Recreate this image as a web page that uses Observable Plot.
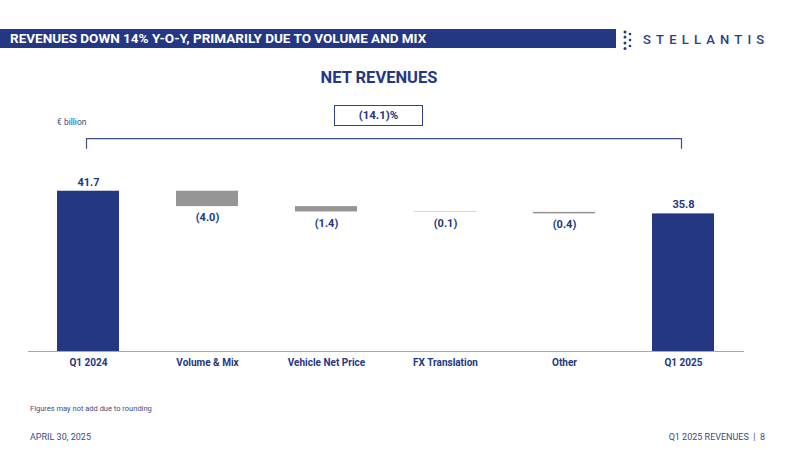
<!DOCTYPE html>
<html><head><meta charset="utf-8">
<script src="https://cdn.jsdelivr.net/npm/d3@7"></script>
<script src="https://cdn.jsdelivr.net/npm/@observablehq/plot@0.6"></script>
<style>
body{margin:0;background:#fff;font-family:Roboto,"Open Sans",sans-serif;}
#page{position:relative;width:800px;height:450px;overflow:hidden;background:#fff;}
.abs{position:absolute;white-space:nowrap;}
#hdr{left:0;top:29px;width:616px;height:19px;background:#233782;}
#hdrtxt{left:10px;top:29px;height:19px;line-height:19px;color:#fff;font-weight:700;font-size:13.5px;letter-spacing:0px;}
#logo{left:643px;top:32px;font-size:13px;letter-spacing:5.2px;color:#2c3e86;font-weight:500;}
#dots{left:621px;top:29px;}
#title{left:0;width:758px;top:68px;text-align:center;font-weight:700;font-size:16.5px;color:#233782;}
#unit{left:57px;top:117px;font-size:8.5px;color:#3d4a80;}
#box{left:334px;top:105px;width:87px;height:19px;border:1.5px solid #2f4189;text-align:center;line-height:19px;font-weight:700;font-size:11.5px;color:#233782;}
#note{left:30px;top:404px;font-size:7.5px;color:#3d4a80;}
#date{left:30px;top:432px;font-size:9px;color:#3d4a80;}
#page8{right:35px;top:432px;font-size:9px;color:#3d4a80;}
#chart{left:0;top:90px;}
</style></head><body>
<div id="page">
  <div id="hdr" class="abs"></div>
  <div id="hdrtxt" class="abs">REVENUES DOWN 14% Y-O-Y, PRIMARILY DUE TO VOLUME AND MIX</div>
  <svg id="dots" class="abs" width="16" height="22" viewBox="0 0 16 22">
    <circle cx="4" cy="3" r="1.5" fill="#233782"/><circle cx="9" cy="5" r="1.3" fill="#233782"/>
    <circle cx="4" cy="8" r="1.5" fill="#233782"/><circle cx="9" cy="11" r="1.3" fill="#233782"/>
    <circle cx="4" cy="14" r="1.5" fill="#233782"/><circle cx="9" cy="17" r="1.3" fill="#233782"/>
    <circle cx="4" cy="19.5" r="1.5" fill="#233782"/>
  </svg>
  <div id="logo" class="abs">STELLANTIS</div>
  <div id="title" class="abs">NET REVENUES</div>
  <div id="unit" class="abs">€ billion</div>
  <div id="box" class="abs"></div>
  <div id="chart" class="abs"></div>
  <div id="note" class="abs">Figures may not add due to rounding</div>
  <div id="date" class="abs">APRIL 30, 2025</div>
  <div id="page8" class="abs">Q1 2025 REVENUES &nbsp;|&nbsp; 8</div>
</div>
<script>
const categories = ["Q1 2024","Volume & Mix","Vehicle Net Price","FX Translation","Other","Q1 2025"];
const values = [41.7, -4.0, -1.4, -0.1, -0.4, 35.8];
const valueLabels = ["41.7","(4.0)","(1.4)","(0.1)","(0.4)","35.8"];
const kinds = ["total","delta","delta","delta","delta","total"];
const changeLabel = "(14.1)%";

document.getElementById("box").textContent = changeLabel;

const blue = "#233782", gray = "#959595";
let running = 0;
const rows = categories.map((c, i) => {
  let y1, y2;
  if (kinds[i] === "total") { y1 = 0; y2 = values[i]; running = values[i]; }
  else { y1 = running; y2 = running + values[i]; running = y2; }
  return {cat: c, y1, y2, top: Math.max(y1, y2), bottom: Math.min(y1, y2), kind: kinds[i], label: valueLabels[i]};
});

const bracketHigh = 55.4, bracketLow = 52.9;
const first = categories[0], last = categories[categories.length - 1];
const bracket = [
  {cat: first, y: bracketLow}, {cat: first, y: bracketHigh},
  {cat: last, y: bracketHigh}, {cat: last, y: bracketLow}
];

const chart = Plot.plot({
  width: 800, height: 295,
  marginLeft: 28, marginRight: 56, marginTop: 30, marginBottom: 34,
  style: {fontFamily: "Roboto, 'Open Sans', sans-serif", background: "transparent"},
  x: {domain: categories, range: [28.2, 743.8], paddingInner: 0.4776, paddingOuter: 0.2388, label: null},
  y: {domain: [0, 60.1], axis: null},
  marks: [
    Plot.barY(rows, {x: "cat", y1: "y1", y2: "y2", fill: d => d.kind === "total" ? blue : gray}),
    Plot.ruleY([0], {stroke: "#a8a8a8", strokeWidth: 1}),
    Plot.text(rows.filter(d => d.kind === "total"), {x: "cat", y: "top", text: "label", dy: -9, fill: blue, fontWeight: "bold", fontSize: 11}),
    Plot.text(rows.filter(d => d.kind === "delta"), {x: "cat", y: "bottom", text: "label", dy: 11, fill: blue, fontWeight: "bold", fontSize: 11}),
    Plot.line(bracket, {x: "cat", y: "y", stroke: "#3b4c92", strokeWidth: 1.2, curve: "linear", dx: -2}),
    Plot.axisX({tickSize: 0, tickPadding: 7, color: blue, fontWeight: "bold", fontSize: 10, label: null})
  ]
});
document.getElementById("chart").appendChild(chart);
</script>
</body></html>
